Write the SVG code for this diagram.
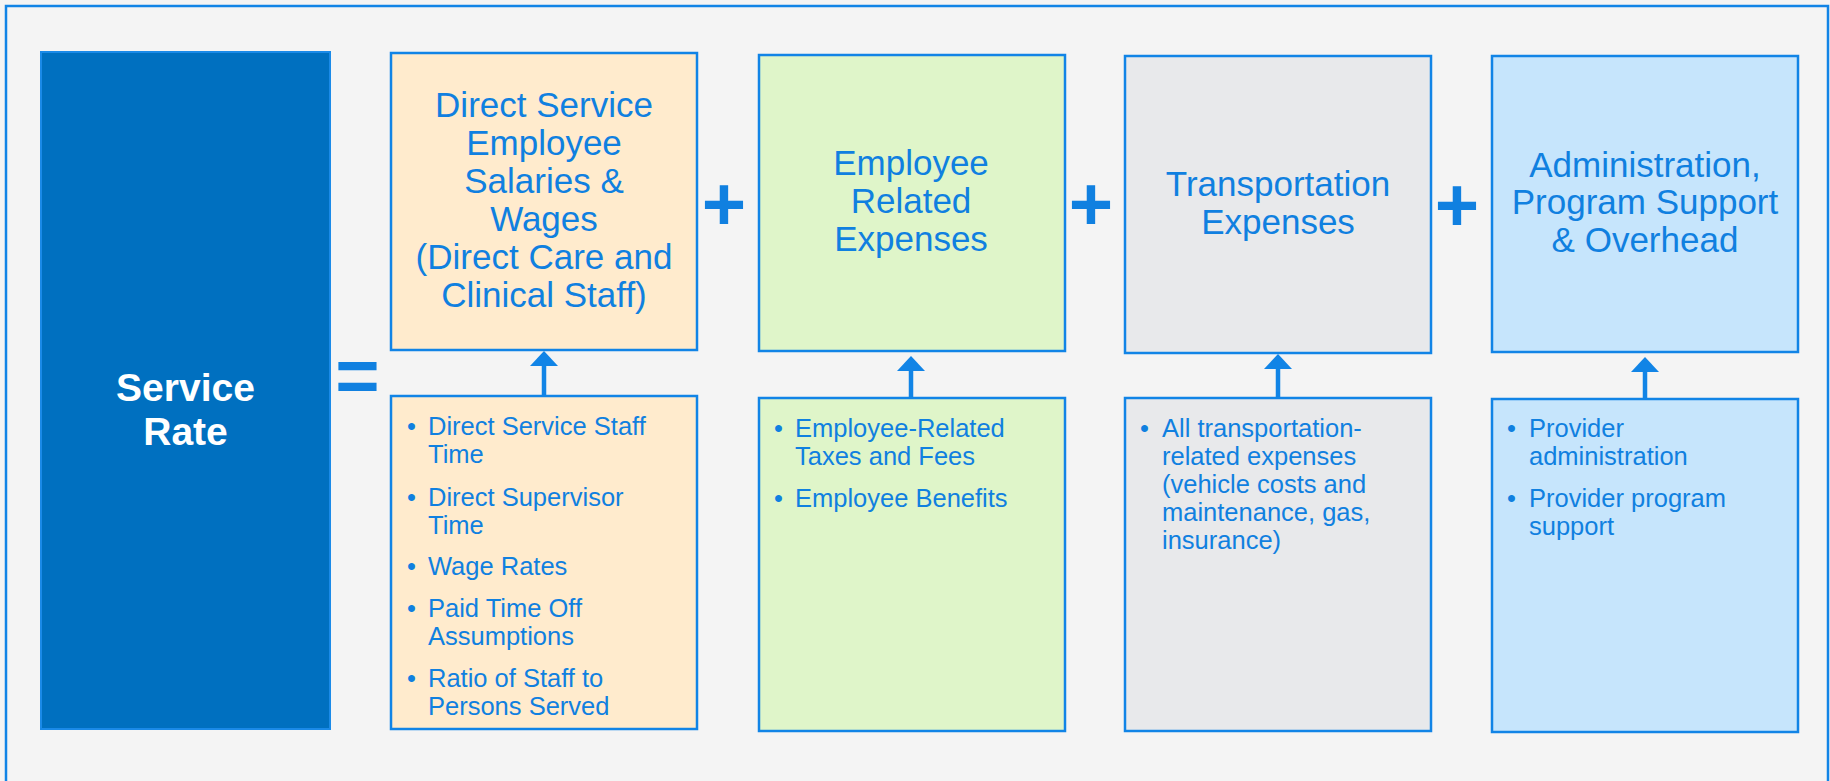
<svg xmlns="http://www.w3.org/2000/svg" width="1830" height="781" viewBox="0 0 1830 781">
  <defs>
    <style>
      .title { font-family: "Liberation Sans", Arial, sans-serif; font-size: 35px; fill: #1080E0; text-anchor: middle; }
      .item { font-family: "Liberation Sans", Arial, sans-serif; font-size: 25.5px; fill: #1080E0; }
      .op { font-family: "Liberation Sans", Arial, sans-serif; font-size: 76px; font-weight: bold; fill: #1080E0; text-anchor: middle; }
      .box { stroke: #1184E6; stroke-width: 2.5; }
      .link { stroke: #1184E6; stroke-width: 4.5; fill: none; }
    </style>
    <marker id="arrowhead" viewBox="0 0 15 28" refX="0" refY="14" markerWidth="15" markerHeight="28" markerUnits="userSpaceOnUse" orient="auto">
      <path d="M0,0 L15,14 L0,28 z" fill="#1184E6"/>
    </marker>
  </defs>

  <!-- page background and frame -->
  <rect x="0" y="0" width="1830" height="781" fill="#F4F4F4"/>
  <rect x="6" y="6" width="1822" height="820" fill="none" stroke="#1184E6" stroke-width="2.5"/>

  <!-- result -->
  <g id="service-rate">
    <rect x="41" y="52" width="289" height="677" fill="#0070C0" stroke="#1A8AE8" stroke-width="2"/>
    <text x="185.5" y="401" font-family="Liberation Sans, Arial, sans-serif" font-size="39" font-weight="bold" fill="#FFFFFF" text-anchor="middle">Service</text>
    <text x="185.5" y="445" font-family="Liberation Sans, Arial, sans-serif" font-size="39" font-weight="bold" fill="#FFFFFF" text-anchor="middle">Rate</text>
  </g>

  <!-- operators -->
  <g id="operators">
    <text class="op" x="357.5" y="402">=</text>
    <text class="op" x="724" y="230">+</text>
    <text class="op" x="1091" y="230">+</text>
    <text class="op" x="1457" y="231">+</text>
  </g>

  <!-- cost components -->
  <g id="direct-service-wages">
    <rect class="box" x="391" y="53" width="306" height="297" fill="#FFEBCD"/>
    <text class="title" x="544" y="117">Direct Service</text>
    <text class="title" x="544" y="155">Employee</text>
    <text class="title" x="544" y="193">Salaries &amp;</text>
    <text class="title" x="544" y="231">Wages</text>
    <text class="title" x="544" y="269">(Direct Care and</text>
    <text class="title" x="544" y="307">Clinical Staff)</text>
  </g>

  <g id="employee-related">
    <rect class="box" x="759" y="55" width="306" height="296" fill="#DFF5C9"/>
    <text class="title" x="911" y="175">Employee</text>
    <text class="title" x="911" y="213">Related</text>
    <text class="title" x="911" y="251">Expenses</text>
  </g>

  <g id="transportation">
    <rect class="box" x="1125" y="56" width="306" height="297" fill="#E8E9EB"/>
    <text class="title" x="1278" y="196">Transportation</text>
    <text class="title" x="1278" y="234">Expenses</text>
  </g>

  <g id="administration">
    <rect class="box" x="1492" y="56" width="306" height="296" fill="#C6E5FC"/>
    <text class="title" x="1645" y="177">Administration,</text>
    <text class="title" x="1645" y="214">Program Support</text>
    <text class="title" x="1645" y="252">&amp; Overhead</text>
  </g>

  <!-- detail boxes -->
  <g id="direct-service-details">
    <rect class="box" x="391" y="396" width="306" height="333" fill="#FFEBCD"/>
    <text class="item" x="407" y="435">•</text>
    <text class="item" x="428" y="435">Direct Service Staff</text>
    <text class="item" x="428" y="463">Time</text>
    <text class="item" x="407" y="506">•</text>
    <text class="item" x="428" y="506">Direct Supervisor</text>
    <text class="item" x="428" y="534">Time</text>
    <text class="item" x="407" y="575">•</text>
    <text class="item" x="428" y="575">Wage Rates</text>
    <text class="item" x="407" y="617">•</text>
    <text class="item" x="428" y="617">Paid Time Off</text>
    <text class="item" x="428" y="645">Assumptions</text>
    <text class="item" x="407" y="687">•</text>
    <text class="item" x="428" y="687">Ratio of Staff to</text>
    <text class="item" x="428" y="715">Persons Served</text>
  </g>

  <g id="employee-related-details">
    <rect class="box" x="759" y="398" width="306" height="333" fill="#DFF5C9"/>
    <text class="item" x="774" y="437">•</text>
    <text class="item" x="795" y="437">Employee-Related</text>
    <text class="item" x="795" y="465">Taxes and Fees</text>
    <text class="item" x="774" y="507">•</text>
    <text class="item" x="795" y="507">Employee Benefits</text>
  </g>

  <g id="transportation-details">
    <rect class="box" x="1125" y="398" width="306" height="333" fill="#E8E9EB"/>
    <text class="item" x="1140" y="437">•</text>
    <text class="item" x="1162" y="437">All transportation-</text>
    <text class="item" x="1162" y="465">related expenses</text>
    <text class="item" x="1162" y="493">(vehicle costs and</text>
    <text class="item" x="1162" y="521">maintenance, gas,</text>
    <text class="item" x="1162" y="549">insurance)</text>
  </g>

  <g id="administration-details">
    <rect class="box" x="1492" y="399" width="306" height="333" fill="#C6E5FC"/>
    <text class="item" x="1507" y="437">•</text>
    <text class="item" x="1529" y="437">Provider</text>
    <text class="item" x="1529" y="465">administration</text>
    <text class="item" x="1507" y="507">•</text>
    <text class="item" x="1529" y="507">Provider program</text>
    <text class="item" x="1529" y="535">support</text>
  </g>

  <!-- connectors: details feed each component -->
  <g id="connectors">
    <line class="link" x1="544" y1="396" x2="544" y2="366" marker-end="url(#arrowhead)"/>
    <line class="link" x1="911" y1="398" x2="911" y2="371" marker-end="url(#arrowhead)"/>
    <line class="link" x1="1278" y1="398" x2="1278" y2="369" marker-end="url(#arrowhead)"/>
    <line class="link" x1="1645" y1="399" x2="1645" y2="372" marker-end="url(#arrowhead)"/>
  </g>
</svg>
